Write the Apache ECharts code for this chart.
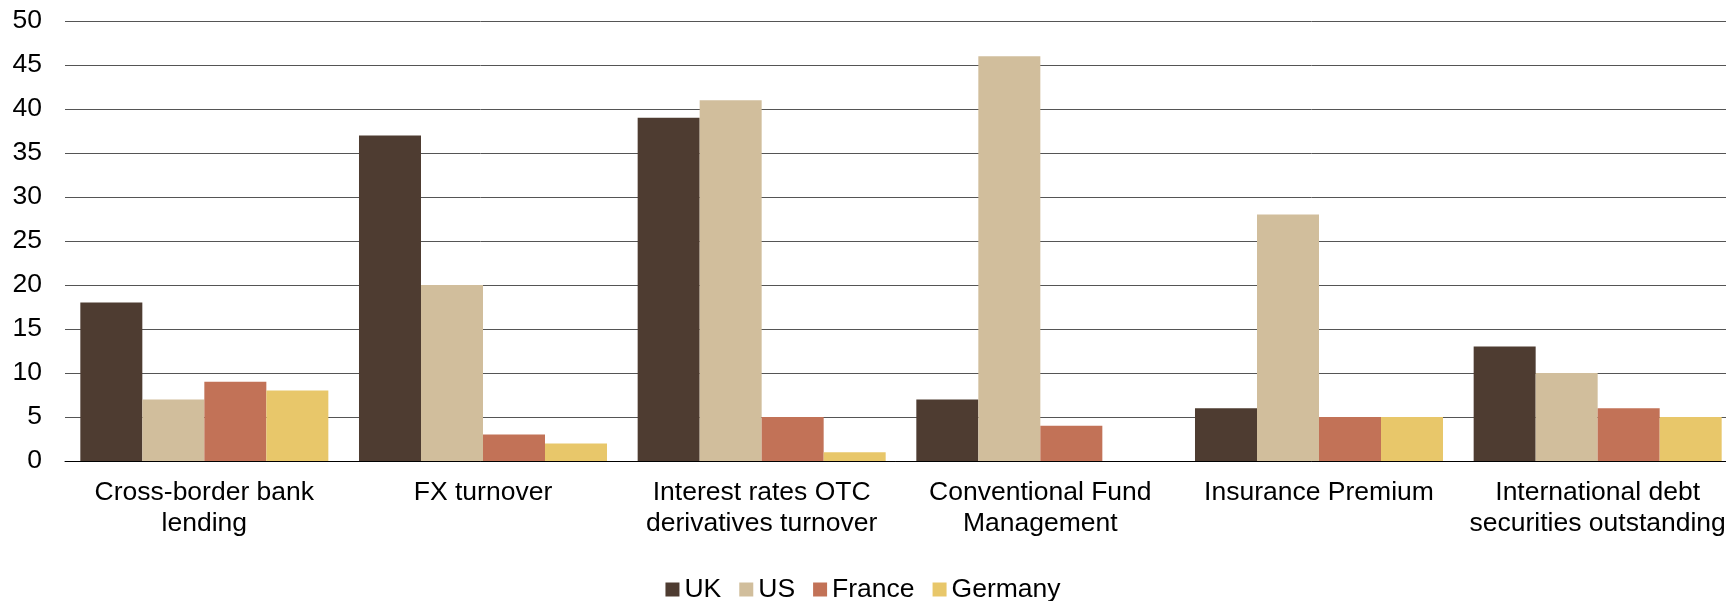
<!DOCTYPE html>
<html>
<head>
<meta charset="utf-8">
<script src="https://cdn.jsdelivr.net/npm/echarts@6/dist/echarts.min.js"></script>
<style>
  html, body { margin: 0; padding: 0; background: #fff; }
  #main-info { width: 1726px; height: 601px; }
</style>
</head>
<body>
<div id="main-info"></div>
<script>
var categories = [
    'Cross-border bank\nlending',
    'FX turnover',
    'Interest rates OTC\nderivatives turnover',
    'Conventional Fund\nManagement',
    'Insurance Premium',
    'International debt\nsecurities outstanding'
];
var ukData = [18, 37, 39, 7, 6, 13];
var usData = [7, 20, 41, 46, 28, 10];
var franceData = [9, 3, 5, 4, 5, 6];
var germanyData = [8, 2, 1, 0, 5, 5];
var yTicks = { min: 0, max: 50, interval: 5 };

var colors = ['#4e3c31', '#d1be9c', '#c27257', '#e8c76a'];
var font = 'Liberation Sans, Arial, sans-serif';

var myChart = echarts.init(document.getElementById('main-info'));
var option = {
    color: colors,
    animation: false,
    grid: {
        top: 21,
        left: 65,
        width: 1672,
        bottom: 140,
        outerBoundsMode: 'none',
        containLabel: false
    },
    legend: {
        data: ['UK', 'US', 'France', 'Germany'],
        left: 'center',
        top: 571,
        itemWidth: 14,
        itemHeight: 14,
        itemGap: 18,
        icon: 'rect',
        textStyle: { fontSize: 26.5, color: '#000', fontFamily: font }
    },
    xAxis: {
        type: 'category',
        data: categories,
        axisTick: { show: false },
        axisLine: { lineStyle: { color: '#000', width: 1 } },
        axisLabel: {
            color: '#000',
            fontSize: 26.5,
            fontFamily: font,
            lineHeight: 31,
            margin: 16,
            interval: 0
        }
    },
    yAxis: {
        type: 'value',
        min: yTicks.min,
        max: yTicks.max,
        interval: yTicks.interval,
        axisLine: { show: false },
        axisTick: { show: false },
        axisLabel: { color: '#000', fontSize: 26.5, fontFamily: font, margin: 23 },
        splitLine: { lineStyle: { color: '#555', width: 1 } }
    },
    series: [
        { name: 'UK', type: 'bar', data: ukData, barGap: '0%', barCategoryGap: '11%' },
        { name: 'US', type: 'bar', data: usData, barGap: '0%', barCategoryGap: '11%' },
        { name: 'France', type: 'bar', data: franceData, barGap: '0%', barCategoryGap: '11%' },
        { name: 'Germany', type: 'bar', data: germanyData, barGap: '0%', barCategoryGap: '11%' }
    ]
};
myChart.setOption(option);
</script>
</body>
</html>
